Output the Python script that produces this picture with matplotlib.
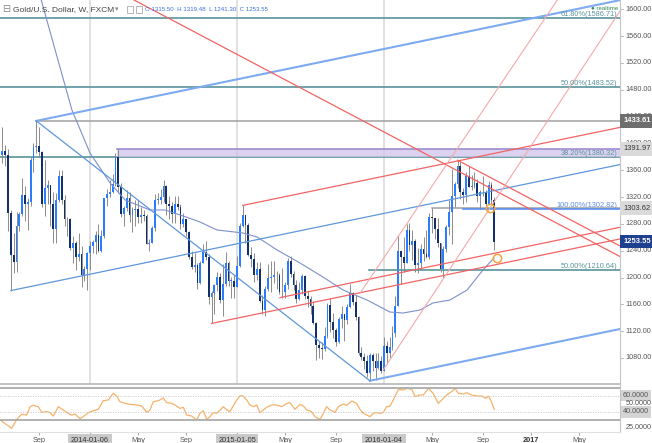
import matplotlib
matplotlib.use("Agg")
import matplotlib.pyplot as plt
from matplotlib.patches import Rectangle

plt.rcParams['font.family'] = ['Liberation Sans', 'DejaVu Sans']

# ---- weekly candles, week 0 = 2014-01-06 (first candle 2013-06-03) ----
first_week = -31
opens = [
    1383, 1389, 1383, 1296, 1234, 1223, 1277, 1295, 1323, 1310, 1313, 1376, 1395, 1396, 1387, 1309,
    1333, 1338, 1310, 1272, 1315, 1352, 1315, 1287, 1288, 1244, 1251, 1230, 1235, 1203, 1213,
    1237, 1247, 1253, 1264, 1240, 1262, 1318, 1324, 1327, 1339, 1379, 1335, 1294, 1303, 1318, 1293,
    1300, 1302, 1290, 1293, 1292, 1250, 1252, 1274, 1316, 1316, 1320, 1337, 1310, 1307, 1294, 1310,
    1305, 1280, 1287, 1268, 1231, 1216, 1218, 1192, 1222, 1238, 1231, 1171, 1177, 1189, 1201, 1167,
    1191, 1222, 1195, 1195,
    1186, 1217, 1277, 1293, 1279, 1234, 1227, 1204, 1213, 1165, 1152, 1183, 1199, 1201, 1204, 1203,
    1178, 1179, 1189, 1225, 1205, 1189, 1168, 1181, 1202, 1173, 1168, 1157, 1132, 1099, 1095, 1094,
    1113, 1159, 1134, 1121, 1104, 1138, 1145, 1137, 1156, 1177, 1163, 1141, 1088, 1081, 1076, 1057,
    1085, 1075, 1065, 1075,
    1061, 1098, 1088, 1097, 1117, 1158, 1239, 1230, 1221, 1271, 1249, 1255, 1219, 1222, 1243, 1235,
    1231, 1290, 1289, 1273, 1252, 1213, 1243, 1276, 1298, 1322, 1340, 1366, 1327, 1323, 1351, 1335,
    1336, 1341, 1321, 1327, 1328, 1310, 1338, 1315.5]
highs = [
    1424, 1397, 1392, 1300, 1267, 1297, 1298, 1348, 1336, 1318, 1379, 1400, 1433.6, 1424, 1388, 1375,
    1345, 1338, 1327, 1326, 1361, 1361, 1323, 1290, 1289, 1262, 1254, 1267, 1247, 1217, 1238,
    1255, 1256, 1270, 1280, 1271, 1319, 1332, 1345, 1355, 1385, 1392, 1341, 1306, 1331, 1327, 1305,
    1315, 1316, 1305, 1300, 1295, 1258, 1277, 1325, 1326, 1332, 1345, 1338, 1321, 1312, 1322, 1321,
    1309, 1296, 1288, 1269, 1240, 1236, 1222, 1224, 1250, 1255, 1235, 1180, 1190, 1208, 1207, 1220,
    1238, 1225, 1201, 1203,
    1232, 1282, 1307.5, 1293, 1282, 1245, 1236, 1223, 1223, 1174, 1187, 1220, 1224, 1224, 1209, 1206,
    1214, 1194, 1229, 1232, 1210, 1196, 1194, 1205, 1204, 1180, 1172, 1165, 1133, 1105, 1104, 1126,
    1162, 1170, 1147, 1124, 1141, 1157, 1145, 1160, 1191, 1178, 1174, 1143, 1097, 1088, 1084, 1088,
    1088, 1087, 1088, 1083,
    1112, 1105, 1111, 1128, 1173, 1263, 1240, 1261, 1280, 1282, 1271, 1257, 1244, 1250, 1261, 1271,
    1296, 1303.6, 1289, 1289, 1252, 1247, 1278, 1316, 1362, 1342, 1375, 1372, 1333, 1357, 1367, 1353,
    1358, 1347, 1331, 1352, 1331, 1344, 1343, 1319.48]
lows = [
    1371, 1366, 1269, 1180, 1207, 1208, 1270, 1292, 1285, 1271, 1306, 1357, 1386, 1380, 1305, 1292,
    1310, 1277, 1251, 1252, 1313, 1309, 1277, 1262, 1241, 1221, 1211, 1225, 1186, 1195, 1182,
    1211, 1236, 1235, 1238, 1238, 1259, 1307, 1320, 1326, 1336, 1326, 1290, 1277, 1299, 1283, 1268,
    1277, 1282, 1282, 1284, 1250, 1240, 1251, 1270, 1309, 1310, 1312, 1293, 1287, 1281, 1282, 1300,
    1273, 1275, 1262, 1228, 1212, 1208, 1183, 1191, 1221, 1226, 1161, 1132, 1146, 1180, 1162, 1142,
    1187, 1187, 1170, 1170,
    1186, 1215, 1276, 1251, 1232, 1216, 1194, 1197, 1163, 1146, 1142, 1180, 1178, 1192, 1183, 1175,
    1170, 1169, 1183, 1201, 1181, 1162, 1166, 1175, 1168, 1156, 1146, 1131, 1077, 1080, 1078, 1090,
    1110, 1118, 1110, 1098, 1102, 1125, 1105, 1130, 1155, 1159, 1136, 1084, 1077, 1063, 1052, 1046,
    1061, 1047, 1064, 1058,
    1060, 1071, 1080, 1092, 1111, 1158, 1191, 1208, 1221, 1240, 1226, 1208, 1207, 1211, 1224, 1229,
    1228, 1266, 1258, 1245, 1208, 1200, 1238, 1264, 1250, 1305, 1333, 1317, 1310, 1312, 1335, 1330,
    1334, 1313, 1302, 1321, 1306, 1310, 1308, 1241.3]
closes = [
    1389, 1383, 1296, 1234, 1223, 1277, 1295, 1323, 1310, 1313, 1376, 1395, 1396, 1387, 1309, 1333,
    1338, 1310, 1272, 1315, 1352, 1315, 1287, 1288, 1244, 1251, 1230, 1235, 1203, 1213, 1237,
    1247, 1253, 1264, 1240, 1262, 1318, 1324, 1327, 1339, 1379, 1335, 1294, 1303, 1318, 1293, 1300,
    1302, 1290, 1293, 1292, 1250, 1252, 1274, 1316, 1316, 1320, 1337, 1310, 1307, 1294, 1310, 1305,
    1280, 1287, 1268, 1231, 1216, 1218, 1192, 1222, 1238, 1231, 1171, 1177, 1189, 1201, 1167, 1191,
    1222, 1195, 1195, 1186,
    1217, 1277, 1293, 1279, 1234, 1227, 1204, 1213, 1165, 1152, 1183, 1199, 1201, 1204, 1203, 1178,
    1179, 1189, 1225, 1205, 1189, 1168, 1181, 1202, 1173, 1168, 1157, 1132, 1099, 1095, 1094, 1113,
    1159, 1134, 1121, 1104, 1138, 1145, 1137, 1156, 1177, 1163, 1141, 1088, 1081, 1076, 1057, 1085,
    1075, 1065, 1075, 1061,
    1098, 1088, 1097, 1117, 1158, 1239, 1230, 1221, 1271, 1249, 1255, 1219, 1222, 1243, 1235, 1231,
    1290, 1289, 1273, 1252, 1213, 1243, 1276, 1298, 1322, 1340, 1366, 1327, 1323, 1351, 1335, 1336,
    1341, 1321, 1327, 1328, 1310, 1338, 1316, 1253.55]
weeks = list(range(first_week, first_week + len(closes)))

# 52-week moving average
ma_weeks = [-18, -6.4, 0, 7.1, 12.4, 21.2, 26.5, 32.9, 38.9, 44.9, 54.1, 59.1, 66.2, 74.3,
            82.4, 89.5, 98.0, 106.1, 110.7, 116.7, 121.3, 127.3, 133.4, 139.0, 142.9]
ma_values = [1625, 1449.8, 1385.7, 1341.0, 1315.6, 1300.7, 1300.7, 1291.8, 1282.8, 1270.9,
             1266.4, 1260.4, 1241.0, 1221.6, 1200.7, 1181.4, 1166.4, 1148.5, 1147.0, 1151.5,
             1162.0, 1166.4, 1181.4, 1211.2, 1229.1]

# RSI(14)
rsi_weeks = [-31.8, -27.7, -25.9, -24.2, -22.4, -21.2, -20.1, -18.3, -17.1, -15.3, -14.1, -13.0,
             -11.2, -9.5, -7.7, -6.5, -5.3, -3.5, -2.4, -0.6, 1.2, 2.9, 4.7, 6.5, 8.2, 9.4, 10.6,
             12.4, 14.1, 16.5, 18.3, 20.1, 21.2, 22.4, 24.2, 25.9, 27.1, 28.9, 30.1, 31.8, 33.0,
             34.2, 36.0, 37.7, 38.9, 40.1, 41.3, 42.4, 43.6, 44.8, 46.0, 47.2, 48.4, 49.5, 51.9,
             53.1, 54.2, 55.4, 56.6, 57.8, 59.0, 60.1, 61.3, 62.5, 64.3, 66.0, 67.8, 69.6, 70.7,
             72.5, 74.3, 75.5, 76.7, 78.4, 79.6, 81.4, 82.5, 83.7, 84.9, 86.7, 87.8, 89.6, 90.8,
             92.6, 94.3, 95.5, 96.7, 97.9, 99.0, 100.2, 101.4, 102.6, 103.7, 104.9, 106.1, 107.3,
             109.1, 110.8, 112.0, 113.8, 115.0, 116.7, 117.9, 119.7, 121.4, 123.2, 125.0, 126.2,
             127.9, 129.1, 130.3, 132.0, 133.3, 135.0, 136.8, 138.6, 140.0, 141.0, 142.0, 143.0]
rsi_values = [30.0, 19.7, 30.8, 37.0, 36.2, 46.5, 48.2, 46.5, 39.5, 40.3, 39.1, 34.9, 46.5, 42.4,
              38.2, 36.2, 37.4, 31.6, 34.1, 39.1, 41.5, 43.2, 53.9, 54.8, 63.0, 59.7, 52.7, 50.6,
              49.4, 48.6, 47.3, 39.5, 42.4, 52.7, 53.9, 57.2, 51.5, 50.6, 48.6, 44.4, 45.7, 36.2,
              34.9, 30.0, 38.2, 41.5, 30.8, 34.1, 39.1, 38.2, 42.4, 46.5, 42.4, 40.3, 54.8, 60.1,
              59.7, 54.8, 48.6, 46.5, 48.6, 39.1, 42.4, 45.7, 48.6, 48.6, 46.5, 50.6, 51.5, 43.2,
              49.4, 47.3, 42.4, 40.3, 34.1, 30.8, 38.2, 46.5, 42.4, 39.5, 46.5, 49.8, 48.2, 53.5,
              50.6, 43.2, 38.2, 36.2, 34.1, 38.2, 39.1, 38.2, 39.1, 46.5, 47.3, 54.8, 68.0, 67.1,
              69.2, 68.0, 58.9, 61.0, 61.0, 69.2, 63.0, 50.6, 56.8, 61.0, 65.1, 69.2, 63.0, 62.2,
              63.8, 61.0, 59.7, 59.7, 56.8, 59.7, 52.7, 43.2]

# drawings
fork_weeks = [-28, -19, 99]                 # Andrews pitchfork pivots
fork_prices = [1180.5, 1433.61, 1046.0]
channel_weeks = [54, 67.2, 43]              # red parallel lines start points
channel_prices = [1307.5, 1170.0, 1131.5]
down_lines = [((14.0, 1617.4), (187.5, 1231.2)), ((130, 1375.0), (187.5, 1247.0))]
steep_lines = [((95.5, 1176.5), (187.5, 1753.0)), ((103.7, 1062.0), (187.5, 1597.5))]
fib_levels = [1586.71, 1483.52, 1380.32]
fib_names = ['61.80%', '50.00%', '38.20%']
fib2_levels = [1302.82, 1210.64]
fib2_names = ['100.00%', '50.00%']
fib2_start = [131.9, 98.8]
zone_low, zone_high, zone_start = 1380.32, 1391.97, 9.7
gray_levels = [1433.61, 1303.62]
gray_start = [-19, 121]
last_price = 1253.55
circle_weeks = [141.5, 143.9]
circle_prices = [1303.0, 1228.6]

x_ticks = [-18, 0, 17, 34, 52, 69, 87, 104, 121, 139, 156, 173]
x_labels = ['Sep', '2014-01-06', 'May', 'Sep', '2015-01-05', 'May', 'Sep', '2016-01-04',
            'May', 'Sep', '2017', 'May']
year_weeks = [0, 52, 104]
price_ticks = [1080, 1120, 1160, 1200, 1240, 1280, 1320, 1360, 1400, 1440, 1480, 1520, 1560, 1600]
rsi_ticks = [60, 50, 40, 25]

x_min, x_max = -31.84, 187.48
up_col, down_col, wick_col = '#2a7dff', '#12306e', '#8c8c8c'
teal = '#5a949c'
blue_line = '#7eaaf0'
red = '#f26464'
pink = '#f6a9a9'
txt = '#555555'

W, H = 652, 443
fig = plt.figure(figsize=(W / 100, H / 100), dpi=100)
ax = fig.add_axes([0, 1 - 383.5 / H, 620 / W, 383.5 / H])
rax = fig.add_axes([0, 1 - 431.5 / H, 620 / W, 47 / H], sharex=ax)

ax.set_xlim(x_min, x_max)
ax.set_ylim(1041.9, 1613.9)
rax.set_ylim(15.76, 73.96)

for a in (ax, rax):
    for s in a.spines.values():
        s.set_visible(False)
    a.spines['right'].set_visible(True)
    a.spines['right'].set_color('#c4c4c4')
    a.set_yticks([])
ax.spines['bottom'].set_visible(True)
ax.spines['bottom'].set_color('#b8b8b8')
ax.spines['bottom'].set_linewidth(1.2)
rax.spines['bottom'].set_visible(True)
rax.spines['bottom'].set_color('#e0e0e0')
ax.tick_params(axis='x', length=0, labelbottom=False)

for w in year_weeks:
    ax.axvline(w, color='#dedede', lw=1.3, zorder=0)

# candles
bodies = [max(abs(c - o), 0.9) for o, c in zip(opens, closes)]
bottoms = [min(o, c) for o, c in zip(opens, closes)]
colors = [up_col if c >= o else down_col for o, c in zip(opens, closes)]
ax.vlines(weeks, lows, highs, color=wick_col, lw=0.7, zorder=3)
ax.bar(weeks, bodies, bottom=bottoms, width=0.64, color=colors, lw=0, zorder=4)

ax.plot(ma_weeks, ma_values, color='#7d90cc', lw=0.8, zorder=5)

# horizontal levels
for lvl, name in zip(fib_levels, fib_names):
    ax.axhline(lvl, color=teal, lw=1.2, zorder=2)
    ax.text(186.4, lvl, f'{name}({lvl:.2f})', ha='right', va='bottom', fontsize=5.3,
            color=teal, zorder=6)
ax.add_patch(Rectangle((zone_start, zone_low), x_max - zone_start, zone_high - zone_low,
                       fc='#cfc3ea', ec='none', alpha=0.75, zorder=2))
ax.plot([zone_start, x_max], [zone_high, zone_high], color='#9f8bd0', lw=1.2, zorder=2)
for lvl, w0 in zip(gray_levels, gray_start):
    ax.plot([w0, x_max], [lvl, lvl], color='#a0a0a0', lw=1.1, zorder=2)
fib2_colors = ['#5b8def', teal]
for lvl, name, w0, col in zip(fib2_levels, fib2_names, fib2_start, fib2_colors):
    ax.plot([w0, x_max], [lvl, lvl], color=col, lw=1.2, zorder=5)
    ax.text(186.4, lvl, f'{name}({lvl:.2f})', ha='right', va='bottom', fontsize=5.3,
            color=col, zorder=6)

# pitchfork
a_w, b_w, c_w = fork_weeks
a_p, b_p, c_p = fork_prices
fork_slope = ((b_p + c_p) / 2 - a_p) / ((b_w + c_w) / 2 - a_w)


def ray(w0, p0, slope):
    return [w0, x_max], [p0, p0 + slope * (x_max - w0)]


ax.plot(*ray(b_w, b_p, fork_slope), color=blue_line, lw=1.5, zorder=5)
ax.plot(*ray(c_w, c_p, fork_slope), color=blue_line, lw=1.5, zorder=5)
ax.plot(*ray(a_w, a_p, fork_slope), color='#5f97da', lw=0.9, zorder=5)
ax.plot([b_w, c_w], [b_p, c_p], color='#5f97da', lw=0.9, zorder=5)

# red lines
for w0, p0 in zip(channel_weeks, channel_prices):
    ax.plot(*ray(w0, p0, fork_slope), color=red, lw=0.9, zorder=5)
for (w0, p0), (w1, p1) in down_lines:
    ax.plot([w0, w1], [p0, p1], color=red, lw=0.9, zorder=5)
for (w0, p0), (w1, p1) in steep_lines:
    ax.plot([w0, w1], [p0, p1], color=pink, lw=0.8, zorder=5)

ax.plot(circle_weeks, circle_prices, 'o', ms=6, mfc='none', mec='#f5a33c', mew=1.1, zorder=7)

# right price scale (labels next to the highlighted levels sit partly under their boxes)
ytr = ax.get_yaxis_transform()
for p in price_ticks:
    ax.text(1.009, p, f'{p:.2f}', transform=ytr, ha='left', va='center', fontsize=5.2,
            color=txt, clip_on=False)
    ax.plot([1.0, 1.005], [p, p], transform=ytr, color='#b0b0b0', lw=0.6, clip_on=False)
boxes = [(1433.61, '#6e6e6e', 'white'), (1391.97, '#dadada', '#333333'),
         (1303.62, '#dadada', '#333333'), (last_price, '#1f3f8f', 'white')]
for lvl, fc, tc in boxes:
    ax.text(1.005, lvl, f'{lvl:.2f}', transform=ytr, ha='left', va='center', fontsize=5.4,
            color=tc, fontweight='bold' if tc == 'white' else 'normal', clip_on=False, zorder=8,
            bbox=dict(boxstyle='square,pad=0.45', fc=fc, ec='none'))

# RSI panel
rax.plot(rsi_weeks, rsi_values, color='#f6b26b', lw=0.9)
for lvl in (70, 30):
    rax.axhline(lvl, color='#ababab', lw=1.3)
for lvl in (60, 40):
    rax.axhline(lvl, color='#c8c8c8', lw=0.6, ls=(0, (1.5, 1.5)))
rtr = rax.get_yaxis_transform()
for r in rsi_ticks:
    boxed = r in (60, 40)
    rax.text(1.009 if not boxed else 1.005, r, f'{r:.4f}', transform=rtr, ha='left',
             va='top' if r == 25 else 'center', fontsize=5.2, color=txt, clip_on=False,
             bbox=dict(boxstyle='square,pad=0.3', fc='#d4d4d4', ec='none') if boxed else None)

rax.set_xticks(x_ticks)
rax.set_xticklabels(x_labels)
rax.tick_params(axis='x', length=2, color='#aaaaaa', labelsize=5.3, labelcolor=txt, pad=2)
for lab in rax.get_xticklabels():
    t = lab.get_text()
    if '-' in t:
        lab.set_bbox(dict(boxstyle='square,pad=0.35', fc='#c9c9c9', ec='none'))
        lab.set_color('#333333')
    elif t == '2017':
        lab.set_fontweight('bold')
        lab.set_color('#333333')

# header
fig.text(2 / W, 1 - 9.5 / H, '\u229f', fontsize=7, color='#888888', va='center',
         family='DejaVu Sans')
fig.text(13 / W, 1 - 9.5 / H, 'Gold/U.S. Dollar, W, FXCM', fontsize=6, color='#444444',
         va='center')
fig.text(115 / W, 1 - 9.5 / H, '\u25be', fontsize=5, color='#888888', va='center',
         family='DejaVu Sans')
for x0 in (127, 136):
    fig.patches.append(Rectangle((x0 / W, 1 - 12.5 / H), 6 / W, 6 / H, fill=False,
                                 ec='#b5b5b5', lw=0.7, transform=fig.transFigure))
fig.text(145 / W, 1 - 9.5 / H, 'O 1315.50  H 1319.48  L 1241.30  C 1253.55', fontsize=4.4,
         color='#3b6fd6', va='center')
fig.text(618 / W, 1 - 9 / H, '\u25cf realtime', fontsize=4.4, color='#2e8b57', va='center',
         ha='right', family=['Liberation Sans', 'DejaVu Sans'])

fig.savefig('out.png', dpi=100)
